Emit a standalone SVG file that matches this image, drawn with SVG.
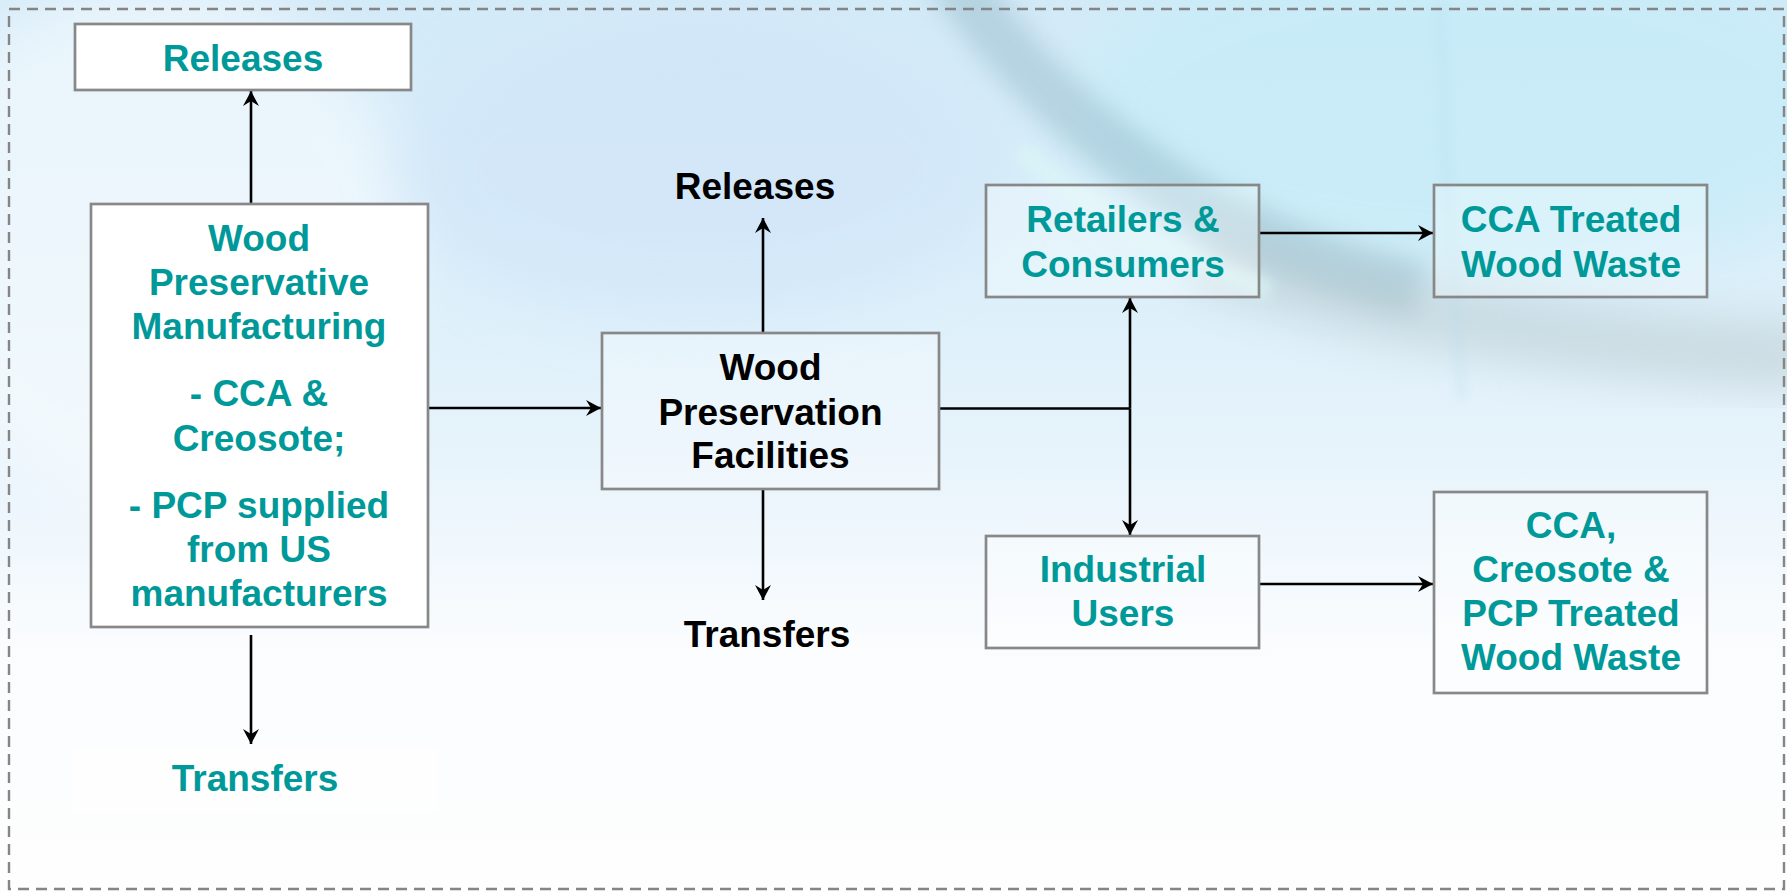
<svg xmlns="http://www.w3.org/2000/svg" width="1787" height="892" viewBox="0 0 1787 892">
<defs>
  <linearGradient id="bgV" x1="0" y1="0" x2="0" y2="1">
    <stop offset="0" stop-color="#d3eaf8"/>
    <stop offset="0.3" stop-color="#dbeffa"/>
    <stop offset="0.5" stop-color="#e6f3fb"/>
    <stop offset="0.62" stop-color="#f1f8fd"/>
    <stop offset="0.72" stop-color="#fafcfe"/>
    <stop offset="1" stop-color="#fefefe"/>
  </linearGradient>
  <filter id="blur30" x="-50%" y="-50%" width="200%" height="200%"><feGaussianBlur stdDeviation="30"/></filter>
  <filter id="blur20" x="-50%" y="-50%" width="200%" height="200%"><feGaussianBlur stdDeviation="20"/></filter>
  <filter id="blur12" x="-50%" y="-50%" width="200%" height="200%"><feGaussianBlur stdDeviation="12"/></filter>
  <filter id="blur6" x="-50%" y="-50%" width="200%" height="200%"><feGaussianBlur stdDeviation="6"/></filter>
  <marker id="arr" viewBox="-15 -9 16 18" refX="0" refY="0" markerUnits="userSpaceOnUse" markerWidth="16" markerHeight="18" orient="auto-start-reverse">
    <path d="M-15,-8 L0,0 L-15,8 L-10,0 Z" fill="#000"/>
  </marker>
  <clipPath id="cv"><rect x="0" y="0" width="1787" height="892"/></clipPath>
  <style>
    .box { stroke: #888888; stroke-width: 2.7; }
    .solid { fill: #ffffff; }
    .glass { fill: #ffffff; fill-opacity: 0.3; }
    .teal { fill: #009999; font-family: "Liberation Sans", Arial, sans-serif; font-weight: bold; font-size: 37px; text-anchor: middle; }
    .dark { fill: #000000; font-family: "Liberation Sans", Arial, sans-serif; font-weight: bold; font-size: 37px; text-anchor: middle; }
    .conn { stroke: #000000; stroke-width: 2.6; fill: none; }
  </style>
</defs>

<g id="background" clip-path="url(#cv)">
  <rect x="0" y="0" width="1787" height="892" fill="url(#bgV)"/>
  <ellipse cx="150" cy="240" rx="260" ry="260" fill="#ffffff" opacity="0.5" filter="url(#blur30)"/>
  <ellipse cx="700" cy="170" rx="300" ry="150" fill="#cfe3f8" opacity="0.55" filter="url(#blur30)"/>
  <ellipse cx="1470" cy="110" rx="400" ry="170" fill="#c4ecf8" opacity="0.7" filter="url(#blur30)"/>
  <path d="M950,-30 C1000,50 1070,120 1160,180 C1250,240 1330,270 1420,290" stroke="#98bccb" stroke-width="55" fill="none" opacity="0.5" filter="url(#blur12)"/>
  <path d="M1200,250 C1320,300 1450,320 1560,335 C1680,350 1760,355 1820,355" stroke="#b4c4c8" stroke-width="70" fill="none" opacity="0.45" filter="url(#blur20)"/>
  <path d="M1020,150 C1090,210 1170,255 1270,290" stroke="#daf7f5" stroke-width="20" fill="none" opacity="0.6" filter="url(#blur6)"/>
  <path d="M1440,0 L1446,170 L1462,400" stroke="#b6dcea" stroke-width="8" fill="none" opacity="0.35" filter="url(#blur6)"/>
</g>

<rect id="frame" x="9" y="9" width="1775" height="880" fill="none" stroke="#858585" stroke-width="2.4" stroke-dasharray="11 7"/>

<g id="connectors">
  <path class="conn" d="M251,203 V91" marker-end="url(#arr)"/>
  <path class="conn" d="M251,635 V744" marker-end="url(#arr)"/>
  <path class="conn" d="M428,408 H601" marker-end="url(#arr)"/>
  <path class="conn" d="M763,332 V218" marker-end="url(#arr)"/>
  <path class="conn" d="M763,489 V600" marker-end="url(#arr)"/>
  <path class="conn" d="M939,408.5 H1130"/>
  <path class="conn" d="M1130,408.5 V298" marker-end="url(#arr)"/>
  <path class="conn" d="M1130,408.5 V535" marker-end="url(#arr)"/>
  <path class="conn" d="M1259,233 H1433" marker-end="url(#arr)"/>
  <path class="conn" d="M1259,584 H1433" marker-end="url(#arr)"/>
</g>

<g id="node-releases-left">
  <rect class="box solid" x="75" y="24" width="336" height="66"/>
  <text class="teal" x="243" y="70.5">Releases</text>
</g>

<g id="node-wood-preservative-manufacturing">
  <rect class="box solid" x="91" y="204" width="337" height="423"/>
  <text class="teal" x="259" y="250.5">Wood</text>
  <text class="teal" x="259" y="294.5">Preservative</text>
  <text class="teal" x="259" y="339">Manufacturing</text>
  <text class="teal" x="259" y="406">- CCA &amp;</text>
  <text class="teal" x="259" y="451">Creosote;</text>
  <text class="teal" x="259" y="517.5">- PCP supplied</text>
  <text class="teal" x="259" y="561.5">from US</text>
  <text class="teal" x="259" y="605.5">manufacturers</text>
</g>

<g id="node-transfers-left">
  <rect x="73" y="747" width="365" height="63" fill="#ffffff" opacity="0.6"/>
  <text class="teal" x="255" y="790.5">Transfers</text>
</g>

<g id="node-wood-preservation-facilities">
  <rect class="box glass" x="602" y="333" width="337" height="156"/>
  <text class="dark" x="770.5" y="380">Wood</text>
  <text class="dark" x="770.5" y="424.5">Preservation</text>
  <text class="dark" x="770.5" y="468">Facilities</text>
</g>

<g id="node-releases-mid">
  <text class="dark" x="755" y="199">Releases</text>
</g>

<g id="node-transfers-mid">
  <text class="dark" x="767" y="647">Transfers</text>
</g>

<g id="node-retailers-consumers">
  <rect class="box glass" x="986" y="185" width="273" height="112"/>
  <text class="teal" x="1123" y="232">Retailers &amp;</text>
  <text class="teal" x="1123" y="276.5">Consumers</text>
</g>

<g id="node-cca-treated-wood-waste">
  <rect class="box glass" x="1434" y="185" width="273" height="112"/>
  <text class="teal" x="1571" y="232">CCA Treated</text>
  <text class="teal" x="1571" y="276.5">Wood Waste</text>
</g>

<g id="node-industrial-users">
  <rect class="box glass" x="986" y="536" width="273" height="112"/>
  <text class="teal" x="1123" y="582">Industrial</text>
  <text class="teal" x="1123" y="626">Users</text>
</g>

<g id="node-cca-creosote-pcp-waste">
  <rect class="box glass" x="1434" y="492" width="273" height="201"/>
  <text class="teal" x="1571" y="538">CCA,</text>
  <text class="teal" x="1571" y="582">Creosote &amp;</text>
  <text class="teal" x="1571" y="626">PCP Treated</text>
  <text class="teal" x="1571" y="670">Wood Waste</text>
</g>
</svg>
